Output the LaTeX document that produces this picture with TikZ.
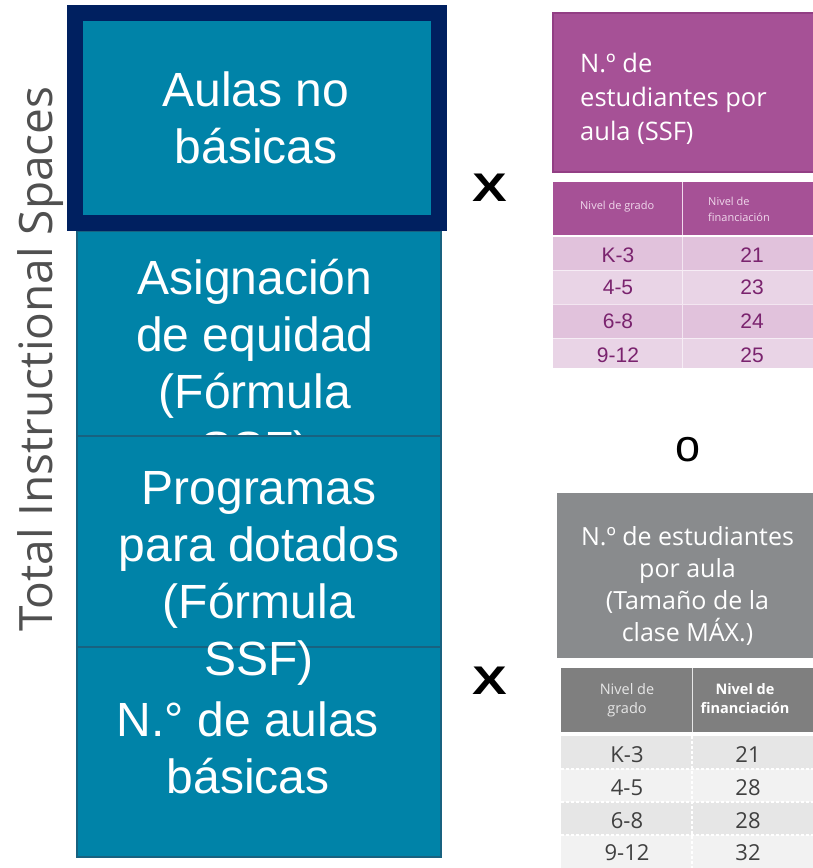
\documentclass[tikz,border=0pt]{standalone}
\usepackage{fontspec}
\setmainfont{Liberation Sans}
\newfontfamily\osans{Open Sans}
\definecolor{tealfill}{RGB}{0,131,168}
\definecolor{tealedge}{RGB}{24,98,128}
\definecolor{navy}{RGB}{0,32,96}
\definecolor{plum}{RGB}{166,81,150}
\definecolor{plumedge}{RGB}{146,62,132}
\definecolor{plumdark}{RGB}{225,194,220}
\definecolor{plumlight}{RGB}{233,212,230}
\definecolor{plumtext}{RGB}{122,35,110}
\definecolor{plumhead}{RGB}{240,216,236}
\definecolor{greybox}{RGB}{137,139,141}
\definecolor{greyhead}{RGB}{127,127,127}
\definecolor{greydark}{RGB}{230,230,230}
\definecolor{greylight}{RGB}{242,242,242}
\definecolor{greytext}{RGB}{64,64,64}
\definecolor{axisgrey}{RGB}{80,80,80}
\begin{document}
\begin{tikzpicture}[x=1pt,y=-1pt,
  stack/.style={rectangle, fill=tealfill, draw=tealedge, line width=1.5pt,
    minimum width=364pt, inner sep=0pt, outer sep=0pt},
  stacktext/.style={text=white, align=center, inner sep=0pt, anchor=base,
    font=\fontsize{48}{57}\selectfont},
  bigmark/.style={inner sep=0pt, font=\bfseries\fontsize{40}{40}\selectfont},
  headtext/.style={text=white, inner sep=0pt, anchor=base,
    font=\osans\fontsize{25.5}{34}\selectfont},
  plumcell/.style={text=plumtext, inner sep=0pt, anchor=base,
    font=\fontsize{21}{21}\selectfont},
  greycell/.style={text=greytext, inner sep=0pt, anchor=base,
    font=\osans\fontsize{22}{22}\selectfont},
  rowsep/.style={white, line width=1pt},
  dashsep/.style={white, line width=1.2pt, dash pattern=on 3pt off 2pt}
]
\useasboundingbox (0,0) rectangle (812,868);

% vertical label
\node[rotate=90, anchor=base, inner sep=0pt, text=axisgrey,
  font=\osans\fontsize{46}{50}\selectfont] (axis) at (52,359) {Total Instructional Spaces};

% stacked boxes
\node[stack, minimum height=205pt] (asig) at (259,333.5) {};
\node[stacktext] (asigt) at (255,465) {Asignación\\de equidad\\(Fórmula\\SSF)};
\node[stack, minimum height=210pt] (basic) at (259,752) {};
\node[stack, minimum height=211pt] (prog) at (259,541.5) {};
\node[stacktext] (progt) at (259,675) {Programas\\para dotados\\(Fórmula\\SSF)};
\node[stacktext] (basict) at (248,793) {N.° de aulas\\básicas};
\node[stack, draw=navy, line width=16pt, minimum height=210pt] (top) at (257,118) {};
\node[stacktext] (topt) at (256,163) {Aulas no\\básicas};

% multiplication signs and "o"
\node[bigmark] (x1) at (490,188) {\scalebox{1.3}[1]{X}};
\node[bigmark] (x2) at (490,681) {\scalebox{1.3}[1]{X}};
\node[inner sep=0pt, font=\fontsize{45}{45}\selectfont] (or) at (688,450) {o};

% purple block
\fill[plum, draw=plumedge, line width=1.5pt] (553,13) rectangle (816,172);
\node[headtext, anchor=base west, align=left] (ph) at (580,140) {N.º de\\estudiantes por\\aula (SSF)};
\fill[plum] (553,182) rectangle (816,235);
\draw[plumhead, line width=1pt] (682,182) -- (682,235);
\fill[plumdark] (553,237) rectangle (816,270);
\fill[plumlight] (553,270) rectangle (816,304);
\fill[plumdark] (553,304) rectangle (816,338);
\fill[plumlight] (553,338) rectangle (816,368);
\draw[rowsep, opacity=0.6] (553,270) -- (816,270) (553,304) -- (816,304) (553,338) -- (816,338) (682,237) -- (682,368);
\node[inner sep=0pt, anchor=base west, text=plumhead, font=\osans\fontsize{11}{15}\selectfont] (pg) at (580,209) {Nivel de grado};
\node[inner sep=0pt, anchor=base west, align=left, text=plumhead, font=\osans\fontsize{11}{16}\selectfont] (pf) at (708,221) {Nivel de\\financiación};
\foreach \i/\g/\v/\b in {1/K-3/21/262, 2/4-5/23/294, 3/6-8/24/328, 4/9-12/25/362}{
  \node[plumcell] (pl\i) at (618,\b) {\g};
  \node[plumcell] (pv\i) at (752,\b) {\v};
}

% grey block
\fill[greybox] (557,493) rectangle (816,658);
\node[headtext, align=center, font=\osans\fontsize{25}{32}\selectfont] (gh) at (687.5,641) {N.º de estudiantes\\por aula\\(Tamaño de la\\clase MÁX.)};
\fill[greyhead] (561,668) rectangle (816,732);
\draw[greydark, line width=1pt] (692,668) -- (692,732);
\fill[greydark] (561,736) rectangle (816,769);
\fill[greylight] (561,769) rectangle (816,802);
\fill[greydark] (561,802) rectangle (816,835);
\fill[greylight] (561,835) rectangle (816,868);
\draw[dashsep] (561,769) -- (816,769) (561,802) -- (816,802) (561,835) -- (816,835) (692,736) -- (692,868);
\node[inner sep=0pt, anchor=base, align=center, text=greydark, font=\osans\fontsize{14.5}{19}\selectfont] (gg) at (627,713) {Nivel de\\grado};
\node[inner sep=0pt, anchor=base, align=center, text=white, font=\osans\bfseries\fontsize{14.5}{19}\selectfont] (gf) at (745,713) {Nivel de\\financiación};
\foreach \i/\g/\v/\b in {1/K-3/21/762, 2/4-5/28/795, 3/6-8/28/828, 4/9-12/32/860}{
  \node[greycell] (gl\i) at (627,\b) {\g};
  \node[greycell] (gv\i) at (748,\b) {\v};
}
\end{tikzpicture}
\end{document}
